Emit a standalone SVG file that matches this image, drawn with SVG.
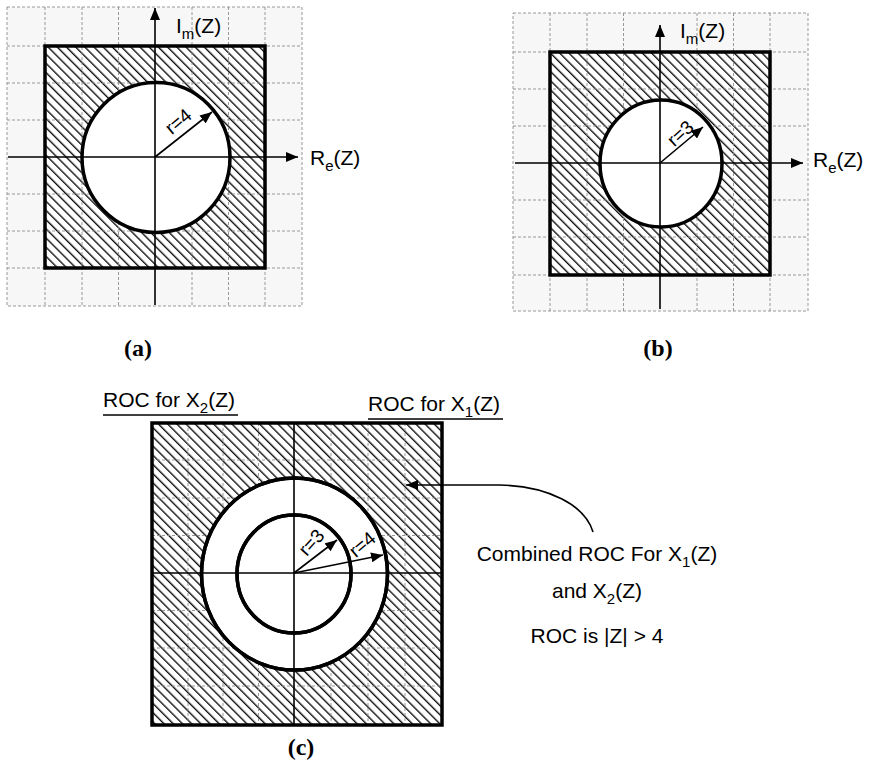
<svg xmlns="http://www.w3.org/2000/svg" width="873" height="770" viewBox="0 0 873 770">
<style>
.grid{stroke:#8c8c8c;stroke-width:0.9;stroke-dasharray:3 2;fill:none}
.gbox{fill:#f7f7f7;stroke:#8c8c8c;stroke-width:0.9;stroke-dasharray:3 2}
.roc{fill:url(#hatch);stroke:none}
.box{fill:none;stroke:#000;stroke-width:3.5}
.hole{fill:#fff;stroke:#000;stroke-width:3.5}
.axis{stroke:#000;stroke-width:1.6;fill:none}
.arr{stroke:#000;stroke-width:1.6;fill:none;marker-end:url(#ah)}
.t{font-family:"Liberation Sans",Arial,sans-serif;font-size:21px;fill:#000}
.r{font-family:"Liberation Sans",Arial,sans-serif;font-size:19px;fill:#000;text-anchor:middle}
.cap{font-family:"Liberation Serif","Times New Roman",serif;font-size:24px;font-weight:bold;fill:#000;text-anchor:middle}
.ul{stroke:#000;stroke-width:1.3}
</style>
<defs>
<pattern id="hatch" width="6.5" height="6.5" patternUnits="userSpaceOnUse" patternTransform="rotate(-45)">
<rect width="6.5" height="6.5" fill="#fff"/>
<line x1="0.7" y1="0" x2="0.7" y2="6.5" stroke="#000" stroke-width="1.3"/>
</pattern>
<marker id="ah" viewBox="0 0 12 10" refX="12" refY="5" markerWidth="12" markerHeight="10" orient="auto" markerUnits="userSpaceOnUse">
<path d="M0,0 L12,5 L0,10 z" fill="#000"/>
</marker>
</defs>

<g id="panel-a">
<rect class="gbox" x="7" y="7" width="295" height="299"/>
<rect class="roc" x="45" y="46" width="220" height="222"/>
<path class="grid" d="M45,7V306M82,7V306M118.5,7V306M192,7V306M228.5,7V306M265,7V306M7,46H302M7,83H302M7,120H302M7,194H302M7,231H302M7,268H302"/>
<ellipse class="hole" cx="156" cy="157.5" rx="74" ry="75"/>
<rect class="box" x="45" y="46" width="220" height="222"/>
<line class="arr" x1="155" y1="305" x2="155" y2="8"/>
<line class="arr" x1="8" y1="157" x2="298" y2="157"/>
<line class="arr" x1="155" y1="157" x2="212" y2="112"/>
<text class="r" transform="translate(178,121) rotate(-40)" y="7">r=4</text>
<text class="t" x="176" y="33">I<tspan font-size="15" dy="6">m</tspan><tspan dy="-6">(Z)</tspan></text>
<text class="t" x="310" y="165">R<tspan font-size="15" dy="6">e</tspan><tspan dy="-6">(Z)</tspan></text>
<text class="cap" x="138" y="356">(a)</text>
</g>

<g id="panel-b">
<rect class="gbox" x="513" y="13" width="295" height="298"/>
<rect class="roc" x="550" y="52" width="220" height="223"/>
<path class="grid" d="M550,13V311M587,13V311M623.5,13V311M697,13V311M733.5,13V311M770,13V311M513,52H808M513,89H808M513,126H808M513,200H808M513,237H808M513,275H808"/>
<ellipse class="hole" cx="661" cy="163.5" rx="61" ry="63.5"/>
<rect class="box" x="550" y="52" width="220" height="223"/>
<line class="arr" x1="660" y1="309" x2="660" y2="25"/>
<line class="arr" x1="515" y1="163" x2="803" y2="163"/>
<line class="arr" x1="660" y1="163" x2="703" y2="127"/>
<text class="r" transform="translate(680,133) rotate(-42)" y="7">r=3</text>
<text class="t" x="680" y="38">I<tspan font-size="15" dy="6">m</tspan><tspan dy="-6">(Z)</tspan></text>
<text class="t" x="813" y="167">R<tspan font-size="15" dy="6">e</tspan><tspan dy="-6">(Z)</tspan></text>
<text class="cap" x="658" y="356">(b)</text>
</g>

<g id="panel-c">
<text class="t" x="103" y="407">ROC for X<tspan font-size="15" dy="6">2</tspan><tspan dy="-6">(Z)</tspan></text>
<line class="ul" x1="103" y1="415" x2="238" y2="415"/>
<text class="t" x="368" y="411">ROC for X<tspan font-size="15" dy="6">1</tspan><tspan dy="-6">(Z)</tspan></text>
<line class="ul" x1="368" y1="419" x2="503" y2="419"/>
<rect class="roc" x="152" y="423" width="290" height="302"/>
<path class="grid" d="M188,423V725M223,423V725M258.5,423V725M331,423V725M368,423V725M405,423V725M152,460H442M152,498H442M152,535.5H442M152,610.5H442M152,648H442M152,686H442"/>
<ellipse class="hole" cx="294.5" cy="574" rx="93" ry="96"/>
<ellipse class="hole" cx="294" cy="574" rx="57" ry="59"/>
<line class="axis" x1="294" y1="423" x2="294" y2="725"/>
<line class="axis" x1="152" y1="573" x2="442" y2="573"/>
<ellipse fill="none" stroke="#000" stroke-width="3.5" cx="294.5" cy="574" rx="93" ry="96"/>
<ellipse fill="none" stroke="#000" stroke-width="3.5" cx="294" cy="574" rx="57" ry="59"/>
<rect class="box" x="152" y="423" width="290" height="302"/>
<line class="arr" x1="294" y1="573" x2="337" y2="540"/>
<line class="arr" x1="294" y1="573" x2="383" y2="555"/>
<text class="r" transform="translate(311,542) rotate(-48)" y="7">r=3</text>
<text class="r" transform="translate(362,544) rotate(-40)" y="7">r=4</text>
<text class="cap" x="301" y="755">(c)</text>
</g>

<g id="connectors">
<path class="arr" d="M593,532 C585,505 548,486 500,485 L406,485"/>
</g>

<g id="note">
<text class="t" x="597" y="561" text-anchor="middle">Combined ROC For X<tspan font-size="15" dy="6">1</tspan><tspan dy="-6">(Z)</tspan></text>
<text class="t" x="597" y="598" text-anchor="middle">and X<tspan font-size="15" dy="6">2</tspan><tspan dy="-6">(Z)</tspan></text>
<text class="t" x="597" y="643" text-anchor="middle">ROC is |Z| &gt; 4</text>
</g>
</svg>
